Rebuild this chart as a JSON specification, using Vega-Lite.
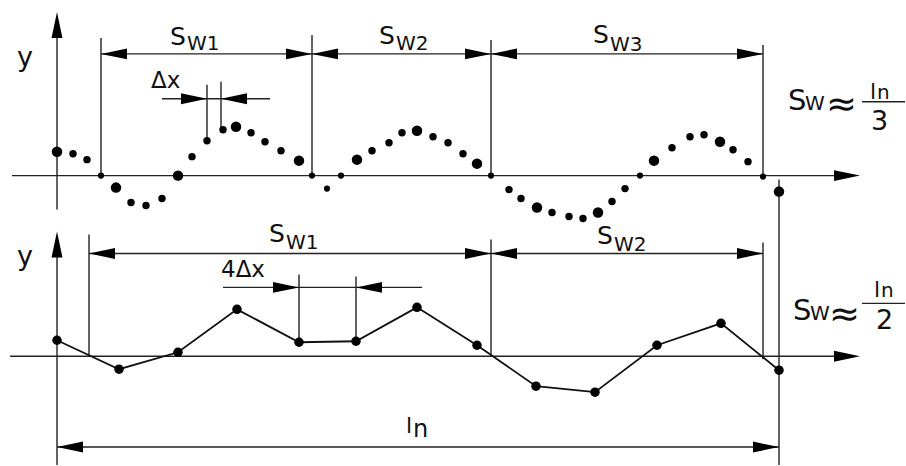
{
  "$schema": "https://vega.github.io/schema/vega-lite/v6.json",
  "width": 906,
  "height": 466,
  "padding": 0,
  "autosize": {"type": "fit", "contains": "padding"},
  "background": "white",
  "config": {"view": {"stroke": null}, "text": {"font": "DejaVu Sans", "color": "#111", "align": "left", "baseline": "alphabetic"}},
  "encoding": {
    "x": {"field": "x", "type": "quantitative", "scale": {"domain": [0, 906], "nice": false, "zero": false}, "axis": null},
    "y": {"field": "y", "type": "quantitative", "scale": {"domain": [0, 466], "nice": false, "zero": false, "reverse": true}, "axis": null}
  },
  "datasets": {
    "segs": [
      {"x": 57, "y": 30, "x2": 57, "y2": 210},
      {"x": 12, "y": 176, "x2": 840, "y2": 176},
      {"x": 101, "y": 38, "x2": 101, "y2": 176},
      {"x": 312, "y": 35, "x2": 312, "y2": 176},
      {"x": 491, "y": 40, "x2": 491, "y2": 176},
      {"x": 763, "y": 45, "x2": 763, "y2": 176},
      {"x": 101, "y": 54, "x2": 763, "y2": 54},
      {"x": 207, "y": 85, "x2": 207, "y2": 141},
      {"x": 221, "y": 82, "x2": 221, "y2": 130},
      {"x": 162, "y": 99, "x2": 270, "y2": 99},
      {"x": 779, "y": 180, "x2": 779, "y2": 466},
      {"x": 57, "y": 250, "x2": 57, "y2": 466},
      {"x": 10, "y": 357, "x2": 840, "y2": 357},
      {"x": 89, "y": 235, "x2": 89, "y2": 357},
      {"x": 491, "y": 240, "x2": 491, "y2": 357},
      {"x": 763, "y": 243, "x2": 763, "y2": 360},
      {"x": 89, "y": 254, "x2": 763, "y2": 254},
      {"x": 299, "y": 275, "x2": 299, "y2": 343},
      {"x": 356, "y": 277, "x2": 356, "y2": 342},
      {"x": 223, "y": 288, "x2": 422, "y2": 288},
      {"x": 57, "y": 448, "x2": 779, "y2": 448},
      {"x": 862, "y": 102, "x2": 905, "y2": 102},
      {"x": 862, "y": 304, "x2": 905, "y2": 304}
    ],
    "arrows": [
      {"x": 57, "y": 12, "dir": "up"},
      {"x": 860, "y": 176, "dir": "right"},
      {"x": 101, "y": 54, "dir": "left"},
      {"x": 312, "y": 54, "dir": "right"},
      {"x": 312, "y": 54, "dir": "left"},
      {"x": 491, "y": 54, "dir": "right"},
      {"x": 491, "y": 54, "dir": "left"},
      {"x": 763, "y": 54, "dir": "right"},
      {"x": 207, "y": 99, "dir": "right"},
      {"x": 221, "y": 99, "dir": "left"},
      {"x": 57, "y": 232, "dir": "up"},
      {"x": 860, "y": 357, "dir": "right"},
      {"x": 89, "y": 254, "dir": "left"},
      {"x": 491, "y": 254, "dir": "right"},
      {"x": 491, "y": 254, "dir": "left"},
      {"x": 763, "y": 254, "dir": "right"},
      {"x": 299, "y": 288, "dir": "right"},
      {"x": 356, "y": 288, "dir": "left"},
      {"x": 57, "y": 448, "dir": "left"},
      {"x": 779, "y": 448, "dir": "right"}
    ],
    "topDots": [
      {"x": 57, "y": 152, "kind": "big"}, {"x": 73, "y": 154, "kind": "mid"}, {"x": 87, "y": 160, "kind": "mid"},
      {"x": 101, "y": 176, "kind": "small"}, {"x": 116, "y": 188, "kind": "big"}, {"x": 131, "y": 203, "kind": "mid"},
      {"x": 146, "y": 206, "kind": "mid"}, {"x": 162, "y": 199, "kind": "mid"}, {"x": 178, "y": 176, "kind": "big"},
      {"x": 192, "y": 157, "kind": "mid"}, {"x": 207, "y": 141, "kind": "mid"}, {"x": 223, "y": 130, "kind": "mid"},
      {"x": 236, "y": 127, "kind": "big"}, {"x": 251, "y": 133, "kind": "mid"}, {"x": 265, "y": 142, "kind": "mid"},
      {"x": 281, "y": 151, "kind": "mid"}, {"x": 299, "y": 161, "kind": "big"}, {"x": 312, "y": 176, "kind": "small"},
      {"x": 327, "y": 189, "kind": "small"}, {"x": 341, "y": 176, "kind": "small"}, {"x": 357, "y": 160, "kind": "big"},
      {"x": 372, "y": 151, "kind": "mid"}, {"x": 389, "y": 143, "kind": "mid"}, {"x": 402, "y": 133, "kind": "mid"},
      {"x": 417, "y": 131, "kind": "big"}, {"x": 433, "y": 137, "kind": "mid"}, {"x": 448, "y": 143, "kind": "mid"},
      {"x": 463, "y": 154, "kind": "mid"}, {"x": 477, "y": 164, "kind": "big"}, {"x": 491, "y": 176, "kind": "small"},
      {"x": 509, "y": 190, "kind": "mid"}, {"x": 521, "y": 199, "kind": "mid"}, {"x": 537, "y": 208, "kind": "big"},
      {"x": 552, "y": 213, "kind": "mid"}, {"x": 569, "y": 217, "kind": "mid"}, {"x": 583, "y": 219, "kind": "mid"},
      {"x": 598, "y": 213, "kind": "big"}, {"x": 612, "y": 202, "kind": "mid"}, {"x": 625, "y": 189, "kind": "mid"},
      {"x": 640, "y": 176, "kind": "small"}, {"x": 654, "y": 161, "kind": "big"}, {"x": 672, "y": 148, "kind": "mid"},
      {"x": 690, "y": 137, "kind": "mid"}, {"x": 704, "y": 135, "kind": "mid"}, {"x": 720, "y": 142, "kind": "big"},
      {"x": 733, "y": 150, "kind": "mid"}, {"x": 748, "y": 162, "kind": "mid"}, {"x": 763, "y": 177, "kind": "small"},
      {"x": 779, "y": 192, "kind": "big"}
    ],
    "botPts": [
      {"x": 57, "y": 341}, {"x": 119, "y": 370}, {"x": 178, "y": 353}, {"x": 237, "y": 310},
      {"x": 299, "y": 343}, {"x": 356, "y": 342}, {"x": 417, "y": 308}, {"x": 477, "y": 346},
      {"x": 536, "y": 387}, {"x": 595, "y": 393}, {"x": 657, "y": 346}, {"x": 721, "y": 324},
      {"x": 779, "y": 371}
    ],
    "labels": [
      {"t": "y", "x": 17, "y": 66, "r": "y"},
      {"t": "S", "x": 170, "y": 45, "r": "S"}, {"t": "W1", "x": 187, "y": 50, "r": "W"},
      {"t": "S", "x": 379, "y": 44, "r": "S"}, {"t": "W2", "x": 396, "y": 50, "r": "W"},
      {"t": "S", "x": 593, "y": 43, "r": "S"}, {"t": "W3", "x": 610, "y": 51, "r": "W"},
      {"t": "Δx", "x": 151, "y": 88, "r": "dx"},
      {"t": "S", "x": 788, "y": 110, "r": "FS"}, {"t": "W", "x": 805, "y": 110, "r": "FW"},
      {"t": "≈", "x": 826, "y": 116, "r": "approx"},
      {"t": "l", "x": 870, "y": 99, "r": "fl"}, {"t": "n", "x": 877, "y": 99, "r": "fn"},
      {"t": "3", "x": 871, "y": 130, "r": "fd"},
      {"t": "y", "x": 17, "y": 266, "r": "y"},
      {"t": "S", "x": 269, "y": 243, "r": "S"}, {"t": "W1", "x": 286, "y": 250, "r": "W"},
      {"t": "S", "x": 597, "y": 245, "r": "S"}, {"t": "W2", "x": 614, "y": 252, "r": "W"},
      {"t": "4Δx", "x": 221, "y": 278, "r": "dx"},
      {"t": "l", "x": 406, "y": 434, "r": "Ll"}, {"t": "n", "x": 413, "y": 438, "r": "Ln"},
      {"t": "S", "x": 793, "y": 321, "r": "FS"}, {"t": "W", "x": 810, "y": 321, "r": "FW"},
      {"t": "≈", "x": 829, "y": 327, "r": "approx"},
      {"t": "l", "x": 874, "y": 298, "r": "fl"}, {"t": "n", "x": 881, "y": 298, "r": "fn"},
      {"t": "2", "x": 876, "y": 330, "r": "fd"}
    ]
  },
  "layer": [
    {
      "data": {"name": "segs"},
      "mark": {"type": "rule", "color": "#222", "strokeWidth": 1.4},
      "encoding": {"x2": {"field": "x2"}, "y2": {"field": "y2"}}
    },
    {
      "data": {"name": "botPts"},
      "mark": {"type": "line", "color": "#111", "strokeWidth": 1.8},
      "encoding": {}
    },
    {
      "data": {"name": "botPts"},
      "mark": {"type": "point", "filled": true, "color": "#000", "opacity": 1, "size": 90, "strokeWidth": 0}
    },
    {
      "data": {"name": "topDots"},
      "transform": [{"filter": "datum.kind == 'big'"}],
      "mark": {"type": "point", "filled": true, "color": "#000", "opacity": 1, "size": 110, "strokeWidth": 0}
    },
    {
      "data": {"name": "topDots"},
      "transform": [{"filter": "datum.kind == 'mid'"}],
      "mark": {"type": "point", "filled": true, "color": "#000", "opacity": 1, "size": 55, "strokeWidth": 0}
    },
    {
      "data": {"name": "topDots"},
      "transform": [{"filter": "datum.kind == 'small'"}],
      "mark": {"type": "point", "filled": true, "color": "#000", "opacity": 1, "size": 38, "strokeWidth": 0}
    },
    {
      "data": {"name": "arrows"},
      "mark": {"type": "point", "filled": true, "color": "#000", "opacity": 1, "size": 676, "strokeWidth": 0},
      "encoding": {
        "shape": {
          "field": "dir", "type": "nominal",
          "scale": {"domain": ["right", "left", "up"], "range": ["M0,0L-2,-0.42L-2,0.42Z", "M0,0L2,-0.42L2,0.42Z", "M0,0L-0.42,2L0.42,2Z"]},
          "legend": null
        }
      }
    },
    {"data": {"name": "labels"}, "transform": [{"filter": "datum.r == 'y'"}], "mark": {"type": "text", "fontSize": 27}, "encoding": {"text": {"field": "t"}}},
    {"data": {"name": "labels"}, "transform": [{"filter": "datum.r == 'S'"}], "mark": {"type": "text", "fontSize": 25}, "encoding": {"text": {"field": "t"}}},
    {"data": {"name": "labels"}, "transform": [{"filter": "datum.r == 'W'"}], "mark": {"type": "text", "fontSize": 20}, "encoding": {"text": {"field": "t"}}},
    {"data": {"name": "labels"}, "transform": [{"filter": "datum.r == 'dx'"}], "mark": {"type": "text", "fontSize": 23}, "encoding": {"text": {"field": "t"}}},
    {"data": {"name": "labels"}, "transform": [{"filter": "datum.r == 'FS'"}], "mark": {"type": "text", "fontSize": 29}, "encoding": {"text": {"field": "t"}}},
    {"data": {"name": "labels"}, "transform": [{"filter": "datum.r == 'FW'"}], "mark": {"type": "text", "fontSize": 20}, "encoding": {"text": {"field": "t"}}},
    {"data": {"name": "labels"}, "transform": [{"filter": "datum.r == 'approx'"}], "mark": {"type": "text", "fontSize": 37}, "encoding": {"text": {"field": "t"}}},
    {"data": {"name": "labels"}, "transform": [{"filter": "datum.r == 'fl'"}], "mark": {"type": "text", "fontSize": 22}, "encoding": {"text": {"field": "t"}}},
    {"data": {"name": "labels"}, "transform": [{"filter": "datum.r == 'fn'"}], "mark": {"type": "text", "fontSize": 20}, "encoding": {"text": {"field": "t"}}},
    {"data": {"name": "labels"}, "transform": [{"filter": "datum.r == 'fd'"}], "mark": {"type": "text", "fontSize": 27}, "encoding": {"text": {"field": "t"}}},
    {"data": {"name": "labels"}, "transform": [{"filter": "datum.r == 'Ll'"}], "mark": {"type": "text", "fontSize": 22}, "encoding": {"text": {"field": "t"}}},
    {"data": {"name": "labels"}, "transform": [{"filter": "datum.r == 'Ln'"}], "mark": {"type": "text", "fontSize": 24}, "encoding": {"text": {"field": "t"}}}
  ]
}
